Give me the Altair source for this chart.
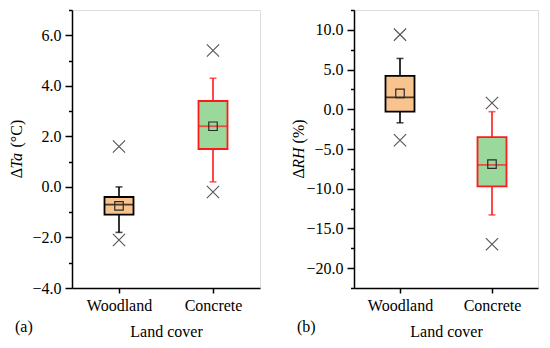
import altair as alt
import pandas as pd

categories = ["Woodland", "Concrete"]

# Panel (a): delta Ta (degC)
ta_whisker_low = [-1.8, 0.2]
ta_q1 = [-1.1, 1.5]
ta_median = [-0.7, 2.4]
ta_q3 = [-0.4, 3.4]
ta_whisker_high = [0.0, 4.3]
ta_mean = [-0.75, 2.4]
ta_min = [-2.1, -0.2]
ta_max = [1.6, 5.4]

# Panel (b): delta RH (%)
rh_whisker_low = [-1.7, -13.3]
rh_q1 = [-0.3, -9.7]
rh_median = [1.5, -7.0]
rh_q3 = [4.2, -3.5]
rh_whisker_high = [6.4, -0.3]
rh_mean = [2.0, -6.9]
rh_min = [-3.9, -17.0]
rh_max = [9.4, 0.8]

# axis title pieces: (text, italic?, width in em, gap before in em)
ta_title = [("Δ", False, 0.612, 0.0), ("Ta", True, 1.056, 0.0), ("(°C)", False, 1.733, 0.25)]
rh_title = [("Δ", False, 0.612, 0.0), ("RH", True, 1.333, 0.0), ("(%)", False, 1.499, 0.25)]

FONT = "'Liberation Serif', 'Times New Roman', serif"
FS = 16
FILL = ["#F9C38E", "#9AD89B"]
EDGE = ["#000000", "#FF1A1A"]
XPATH = "M-1,-1L1,1M-1,1L1,-1"


def title_layers(pieces, height, xpos):
    total = sum(w + g for _, _, w, g in pieces) * FS
    pos = height / 2 + total / 2
    layers = []
    for txt, ital, w, g in pieces:
        pos -= g * FS
        layers.append(
            alt.Chart(pd.DataFrame({"t": [txt]})).mark_text(
                align="left", baseline="middle", angle=270, fontSize=FS,
                font=FONT, color="black",
                fontStyle="italic" if ital else "normal",
            ).encode(text="t:N", x=alt.value(xpos), y=alt.value(pos))
        )
        pos -= w * FS
    return layers


def panel(wlo, q1, med, q3, whi, mean, mn, mx, domain, major, minor_vals,
          tpieces, letter, width, height):
    stats = pd.DataFrame({
        "cat": categories, "wlo": wlo, "q1": q1, "med": med, "q3": q3,
        "whi": whi, "mean": mean,
    })
    outl = pd.DataFrame({
        "cat": categories + categories,
        "v": list(mn) + list(mx),
    })
    xenc = alt.X(
        "cat:N", sort=categories,
        scale=alt.Scale(type="point", padding=0.5),
        axis=alt.Axis(
            title="Land cover", labelAngle=0, tickSize=5, tickWidth=1.5,
            tickColor="black", domainColor="black", domainWidth=1.5,
            labelFontSize=FS, titleFontSize=FS, labelPadding=4,
            titlePadding=10, titleFontWeight="normal", labelColor="black",
            titleColor="black", labelFont=FONT, titleFont=FONT, grid=False,
        ),
    )
    yscale = alt.Scale(domain=domain, nice=False, zero=False)
    yaxis = alt.Axis(
        title=None, values=minor_vals, format=".1f",
        labelExpr=f"datum.value % {major} == 0 ? datum.label : ''",
        tickSize={"condition": {"test": f"datum.value % {major} != 0", "value": 3.5}, "value": 7},
        tickWidth=1.5, tickColor="black", domainColor="black", domainWidth=1.5,
        labelFontSize=FS, labelPadding=4, labelColor="black",
        labelFont=FONT, grid=False,
    )
    stroke_scale = alt.Scale(domain=categories, range=EDGE)
    fill_scale = alt.Scale(domain=categories, range=FILL)
    base = alt.Chart(stats)

    lower = base.mark_rule(strokeWidth=1.6).encode(
        x=xenc, y=alt.Y("wlo:Q", scale=yscale, axis=yaxis), y2="q1:Q",
        color=alt.Color("cat:N", scale=stroke_scale, legend=None),
    )
    upper = base.mark_rule(strokeWidth=1.6).encode(
        x=xenc, y=alt.Y("q3:Q", scale=yscale, axis=yaxis), y2="whi:Q",
        color=alt.Color("cat:N", scale=stroke_scale, legend=None),
    )
    cap_lo = base.mark_tick(size=7, thickness=1.6).encode(
        x=xenc, y=alt.Y("wlo:Q", scale=yscale, axis=yaxis),
        color=alt.Color("cat:N", scale=stroke_scale, legend=None),
    )
    cap_hi = base.mark_tick(size=7, thickness=1.6).encode(
        x=xenc, y=alt.Y("whi:Q", scale=yscale, axis=yaxis),
        color=alt.Color("cat:N", scale=stroke_scale, legend=None),
    )
    box = base.mark_bar(width=29, strokeWidth=1.8).encode(
        x=xenc, y=alt.Y("q1:Q", scale=yscale, axis=yaxis), y2="q3:Q",
        fill=alt.Fill("cat:N", scale=fill_scale, legend=None),
        stroke=alt.Stroke("cat:N", scale=stroke_scale, legend=None),
    )
    median = base.mark_tick(size=29, thickness=1.8).encode(
        x=xenc, y=alt.Y("med:Q", scale=yscale, axis=yaxis),
        color=alt.Color("cat:N", scale=stroke_scale, legend=None),
    )
    meanpt = base.mark_point(shape="square", size=72, filled=False,
                             stroke="#2b2b2b", strokeWidth=1.2, opacity=1).encode(
        x=xenc, y=alt.Y("mean:Q", scale=yscale, axis=yaxis),
    )
    outpts = alt.Chart(outl).mark_point(shape=XPATH, size=150, filled=False,
                                         stroke="#555555", strokeWidth=1.1, opacity=1).encode(
        x=xenc, y=alt.Y("v:Q", scale=yscale, axis=yaxis),
    )
    label = alt.Chart(pd.DataFrame({"t": [letter]})).mark_text(
        align="left", baseline="middle", fontSize=FS, font=FONT, color="black",
    ).encode(text="t:N", x=alt.value(-57), y=alt.value(height + 39))

    layers = [lower, upper, cap_lo, cap_hi, box, median, meanpt, outpts, label]
    layers += title_layers(tpieces, height, -55)
    return alt.layer(*layers).properties(width=width, height=height)


ta_ticks = [float(v) for v in range(-4, 8)]
rh_ticks = [-22.5 + 2.5 * i for i in range(15)]

left = panel(ta_whisker_low, ta_q1, ta_median, ta_q3, ta_whisker_high,
             ta_mean, ta_min, ta_max, [-4, 7], 2, ta_ticks,
             ta_title, "(a)", 188, 278)
right = panel(rh_whisker_low, rh_q1, rh_median, rh_q3, rh_whisker_high,
              rh_mean, rh_min, rh_max, [-22.5, 12.5], 5, rh_ticks,
              rh_title, "(b)", 184, 278)

chart = alt.hconcat(left, right, spacing=29).properties(
    padding={"left": 0, "top": 0, "right": 0, "bottom": 0}
).configure_view(stroke="black", strokeWidth=1.5).configure(
    font=FONT, background="white"
)

chart.save("out.html", embed_options={"renderer": "svg", "actions": False})
